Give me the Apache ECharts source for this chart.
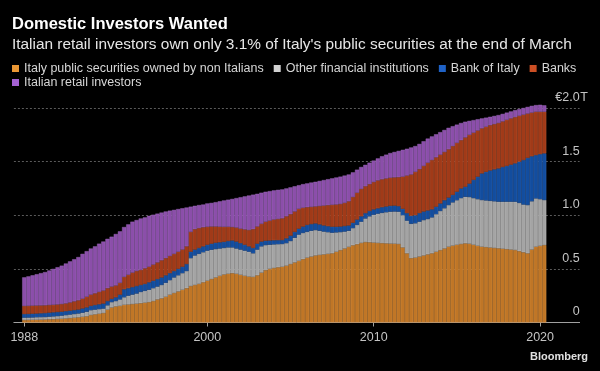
<!DOCTYPE html>
<html><head><meta charset="utf-8">
<script src="https://cdn.jsdelivr.net/npm/echarts@6/dist/echarts.min.js"></script>
<style>html,body{margin:0;padding:0;background:#000;}#c{width:600px;height:371px;}</style>
</head><body><div id="c"></div>
<script>
// Series names (legend order)
const seriesNames = ['Italy public securities owned by non Italians', 'Other financial institutions', 'Bank of Italy', 'Banks', 'Italian retail investors'];
// Quarterly values in € trillions, Dec 1988 .. Mar 2020 (126 quarters)
const nonItalians = [
.023,.024,.025,.026,.027,
.028,.030,.031,.033, .035,.038,.041,.044, .048,.053,.058,.070, .076,.082,.088,.120,
.140,.150,.155,.165, .168,.172,.176,.180, .185,.190,.200,.215, .225,.240,.260,.275,
.290,.305,.320,.340, .350,.360,.375,.390, .405,.420,.435,.448, .455,.460,.455,.445,
.435,.428,.425,.440, .465,.488,.500,.508, .515,.520,.530,.545, .560,.575,.590,.605,
.615,.625,.630,.635, .640,.645,.660,.675, .690,.705,.720,.730, .742,.750,.748,.745,
.742,.740,.738,.736, .735,.732,.700,.645, .600,.605,.615,.625, .635,.645,.660,.675,
.690,.707,.717,.725, .732,.738,.735,.725, .715,.707,.703,.699, .695,.692,.688,.684,
.680,.676,.665,.655, .645,.680,.707,.715, .722];
const otherFinancial = [
.022,.022,.022,.023,.023,
.023,.024,.026,.027, .029,.031,.033,.035, .036,.038,.042,.045, .044,.043,.042,.040,
.050,.050,.060,.070, .082,.088,.094,.105, .110,.115,.120,.120, .125,.130,.135,.145,
.150,.155,.160,.260, .275,.280,.280,.280, .273,.265,.255,.247, .245,.240,.235,.235,
.235,.232,.220,.240, .245,.234,.225,.220, .215,.212,.210,.215, .230,.245,.245,.240,
.240,.237,.225,.213, .202,.192,.180,.168, .158,.150,.160,.180, .198,.220,.242,.260,
.273,.282,.290,.297, .300,.301,.300,.305, .320,.320,.325,.330, .330,.335,.350,.365,
.375,.388,.403,.415, .428,.434,.435,.435, .435,.435,.435,.435, .435,.434,.438,.442,
.446,.450,.450,.445, .450,.450,.450,.435, .420];
const bankOfItaly = [
.034,.034,.035,.035,.036,
.037,.038,.038,.038, .037,.037,.037,.037, .037,.040,.041,.040, .043,.045,.047,.040,
.030,.035,.045,.075, .070,.070,.070,.065, .065,.070,.070,.070, .070,.070,.065,.060,
.060,.060,.065,.060, .055,.055,.055,.055, .057,.059,.058,.057, .060,.065,.065,.060,
.055,.050,.050,.055, .045,.041,.040,.039, .038,.037,.045,.050, .055,.055,.060,.065,
.063,.062,.060,.057, .056,.056,.053,.052, .052,.050,.050,.050, .050,.050,.050,.050,
.050,.053,.054,.055, .055,.052,.060,.070, .075,.075,.080,.080, .080,.075,.070,.070,
.075,.070,.070,.080, .090,.094,.125,.170, .210,.248,.267,.284, .298,.311,.324,.334,
.346,.358,.385,.415, .440,.420,.404,.420, .435];
const banks = [
.075,.075,.075,.074,.073,
.072,.071,.070,.070, .071,.072,.076,.081, .086,.091,.099,.105, .109,.115,.121,.120,
.115,.110,.110,.115, .125,.135,.140,.140, .145,.145,.150,.155, .160,.160,.160,.160,
.160,.160,.165,.185, .190,.185,.178,.167, .160,.151,.145,.140, .132,.125,.130,.135,
.143,.152,.175,.160, .165,.177,.185,.193, .197,.202,.205,.200, .190,.185,.175,.165,
.160,.158,.171,.185, .196,.204,.207,.210, .215,.225,.240,.250, .255,.250,.250,.255,
.260,.260,.261,.262, .263,.270,.300,.350, .385,.405,.410,.425, .445,.460,.460,.455,
.450,.450,.455,.455, .450,.459,.455,.440, .430,.420,.420,.422, .422,.423,.425,.430,
.431,.431,.427,.423, .413,.407,.404,.395, .388];
const retailInvestors = [
.267,.275,.283,.292,.301,
.310,.322,.335,.347, .358,.372,.383,.393, .403,.418,.425,.430, .438,.450,.457,.460,
.465,.480,.480,.465, .470,.475,.475,.480, .475,.475,.465,.455, .445,.435,.423,.410,
.398,.385,.362,.235, .218,.215,.212,.218, .220,.227,.237,.246, .253,.262,.275,.293,
.308,.322,.322,.305, .290,.279,.275,.272, .272,.270,.260,.250, .235,.220,.220,.222,
.227,.230,.234,.238, .242,.247,.252,.255, .255,.250,.230,.215, .205,.200,.200,.200,
.205,.215,.222,.230, .237,.245,.250,.250, .252,.240,.235,.230, .225,.220,.215,.210,
.205,.200,.185,.170, .160,.147,.130,.117, .105,.093,.085,.078, .076,.074,.070,.067,
.065,.065,.063,.062, .062,.063,.062,.065, .060];
// Tick labels (x ticks sit on these quarter categories)
const xTickCategories = ['1988-12', '1999-12', '2009-12', '2019-12'];
const xTickLabels = ['1988', '2000', '2010', '2020'];
const yTickValues = [0, 0.5, 1, 1.5, 2];
const yTickLabels = ['0', '0.5', '1.0', '1.5', '2.0'];

// Quarter categories: axis spans Jun 1988 .. Mar 2022, data covers Dec 1988 .. Mar 2020
const padBefore = 2, padAfter = 8;
const categories = [];
for (let i = 0; i < padBefore + nonItalians.length + padAfter; i++) {
  const m = 5 + 3 * i; const y = 1988 + Math.floor(m / 12); const mm = (m % 12) + 1;
  categories.push(y + '-' + (mm < 10 ? '0' : '') + mm);
}
const pad = (arr) => Array(padBefore).fill(null).concat(arr, Array(padAfter).fill(null));

const barColors = ['#c07626', '#a4a4a4', '#124d9f', '#a13a18', '#8b4eaa'];
const stripeColors = ['#d8944a', '#c4c4c4', '#3a6cb8', '#b85a38', '#a572c2'];
const legendColors = ['#ea9734', '#d2d2d2', '#1f62c6', '#cc4f24', '#a461d2'];
const seriesData = [nonItalians, otherFinancial, bankOfItaly, banks, retailInvestors];
const font = 'Liberation Sans, Arial, sans-serif';

const chart = echarts.init(document.getElementById('c'), null, { renderer: 'canvas' });
const legendItem = (i) => ({ name: seriesNames[i], itemStyle: { color: legendColors[i], borderWidth: 0 } });
const legendBase = { icon: 'rect', itemWidth: 7, itemHeight: 7, itemGap: 10, selectedMode: false, padding: 0,
  textStyle: { color: '#d6d6d6', fontSize: 12.5, fontFamily: font } };
const isTick = (idx, val) => xTickCategories.indexOf(val) >= 0;

chart.setOption({
  backgroundColor: '#000',
  animation: false,
  textStyle: { fontFamily: font },
  title: [
    { text: 'Domestic Investors Wanted', subtext: "Italian retail investors own only 3.1% of Italy's public securities at the end of March",
      left: 12, top: 16, itemGap: 4, padding: 0,
      textStyle: { color: '#ffffff', fontSize: 16.5, fontWeight: 'bold', fontFamily: font },
      subtextStyle: { color: '#e6e6e6', fontSize: 15.4, fontFamily: font } },
    { text: 'Bloomberg', right: 12, bottom: 9, padding: 0, textStyle: { color: '#e0e0e0', fontSize: 11, fontWeight: 'bold', fontFamily: font } }
  ],
  legend: [
    Object.assign({ data: [0, 1, 2, 3].map(legendItem), left: 12, top: 62 }, legendBase),
    Object.assign({ data: [legendItem(4)], left: 12, top: 76 }, legendBase)
  ],
  grid: { left: 13.9, right: 20.4, top: 108, bottom: 48.5 },
  xAxis: {
    type: 'category', data: categories, boundaryGap: true,
    axisLine: { lineStyle: { color: '#a0a0a0', width: 1 } },
    axisTick: { show: true, alignWithLabel: true, interval: isTick, length: 4, lineStyle: { color: '#a0a0a0' } },
    axisLabel: { interval: isTick, color: '#c4c4c4', fontSize: 12.5, margin: 9,
      formatter: v => { const k = xTickCategories.indexOf(v); return k >= 0 ? xTickLabels[k] : ''; } },
    splitLine: { show: false }
  },
  yAxis: {
    type: 'value', position: 'right', min: 0, max: 2, interval: 0.5,
    axisLine: { show: false }, axisTick: { show: false },
    splitLine: { show: true, lineStyle: { color: '#5a5a5a', type: [2, 2], width: 1 } },
    axisLabel: {
      inside: true, margin: -9, align: 'right', verticalAlign: 'bottom', color: '#c4c4c4', fontSize: 12.5,
      formatter: v => { const k = yTickValues.findIndex(t => Math.abs(t - v) < 1e-6); const t = yTickLabels[k];
        return k === yTickValues.length - 1 ? '{n|€' + t + '}{s|T}' : '{n|' + t + '}{s| }'; },
      rich: { n: { color: '#c4c4c4', fontSize: 12.5, fontFamily: font, padding: [0, 0, 4, 0] },
              s: { color: '#c4c4c4', fontSize: 12.5, fontFamily: font, width: 9, align: 'left', padding: [0, 0, 4, 0] } }
    }
  },
  series: seriesNames.map((n, i) => ({
    name: n, type: 'bar', stack: 'total', clip: false,
    barCategoryGap: '0%',
    itemStyle: { color: barColors[i], borderColor: stripeColors[i], borderWidth: 0.4 },
    data: pad(seriesData[i])
  }))
});
</script></body></html>
